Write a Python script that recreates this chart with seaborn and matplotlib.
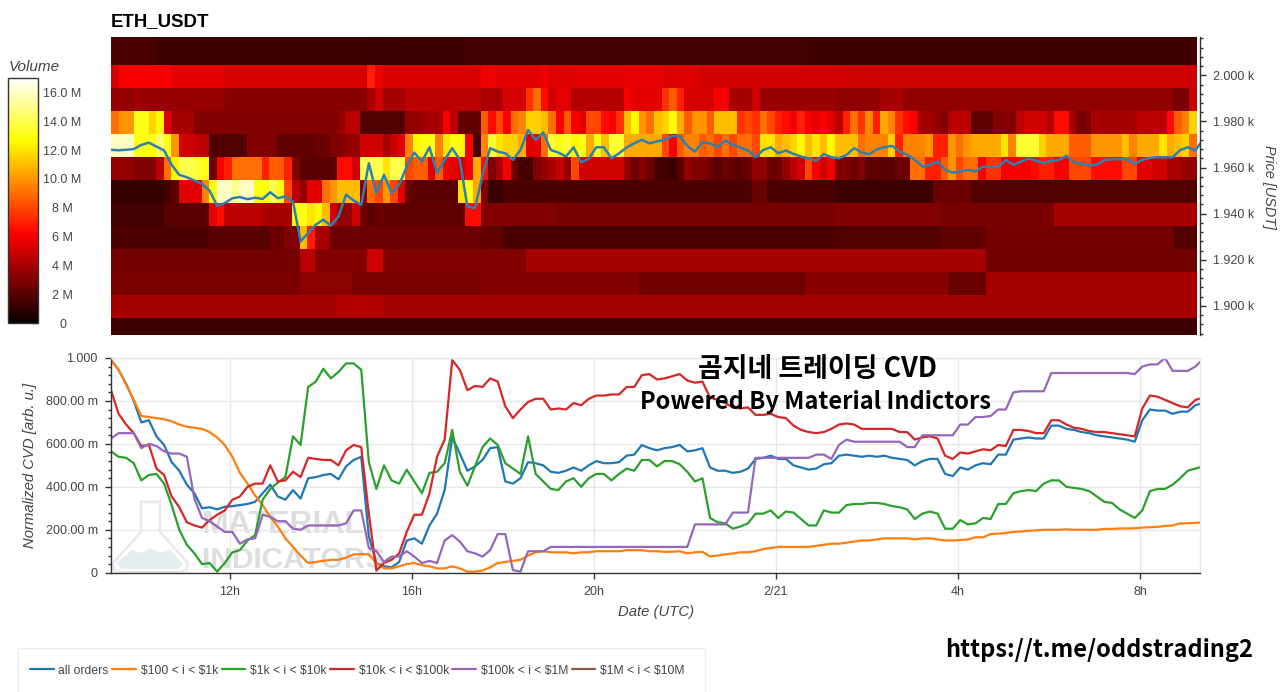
import numpy as np
import pandas as pd
import seaborn as sns
import matplotlib
matplotlib.use('Agg')
import matplotlib.pyplot as plt
from matplotlib.lines import Line2D
from matplotlib.patches import Polygon, Rectangle
from matplotlib.ticker import MultipleLocator
from matplotlib.transforms import Affine2D

# volume per 10 min column, one list per price bin (millions)
vol_2009 = [1.7]*6 + [1.35]*29 + [1.25]*12 + [1.5]*5 + [1.45]*40 + [1.35]*52
vol_1999 = ([5.2] + [6]*7 + [5.5]*7 + [5.2]*19 + [7, 5.8] + [5.3]*13
            + [5.8]*2 + [5.5]*6 + [5.9] + [5.4]*3 + [5.5]*7 + [5.6]*5 + [5.4]*5 + [5.1]*18
            + [5]*48)
vol_1989 = ([3.5]*3 + [3.8] + [3.6]*11 + [3.2]*19 + [4, 5] + [4]*3 + [4.5]*10
            + [4]*3 + [5.2]*3 + [7.5, 9, 6.5, 5] + [5.5]*2 + [4.3]*7 + [6] + [5.5]*4
            + [7.5, 8.5, 7] + [5.2]*4 + [6]*2 + [4]*3 + [5] + [3.7]*10
            + [3.4]*6 + [4]*3 + [3.4]*36 + [2.8]*2 + [4.8])
vol_1979 = ([9, 10, 10, 13, 13, 11.5, 12.5, 5.5, 4, 4, 4] + [3]*19 + [3.5, 4.5, 4.5] + [1.8]*6
            + [3.5, 3.5, 3.8, 4, 4, 6, 4.5, 2.2, 2.2, 2.2]
            + [8.5, 6.5, 8, 6, 9, 9.5, 11.5, 11.5, 11, 9, 6, 8.5, 6, 5.5, 8, 8, 6.5, 6, 7.5, 11,
               12.5, 10, 9, 11, 11.5, 12.7, 10.5, 8.5, 10, 10, 8.5, 11, 11, 11, 7.5, 8, 7.5, 9, 8, 7,
               6.5, 6, 7, 6, 5.5, 6, 5.5]
            + [4.5, 7, 9, 7.5, 9.5, 7, 10.5, 9.5, 7.5, 6.5, 6, 3.8, 3.8, 3.5, 3, 4.5, 4.5, 4.5]
            + [2.2]*3 + [3]*3 + [4.5, 5, 5, 5, 4.5, 6.5, 6.5, 4, 2.8, 2.8] + [4]*6 + [4.5]*4
            + [6.5, 8.5, 9.5, 11.5])
vol_1969 = ([16, 16, 16, 13, 13, 13, 14.5, 13, 10, 5, 5, 4.5, 4.5] + [1.8]*5 + [3]*4 + [2.2]*5
            + [2.5, 2.5, 3, 3, 3.5, 3.5, 5, 5, 5, 4, 4.8, 5.5, 9.5, 12.5, 13, 13, 9.5, 12, 13, 12.5, 6, 1.5]
            + [9.5, 13.5, 12, 11.5, 11.5, 10.5, 5.5, 5.5, 9, 13.5, 13, 13.5, 12.5, 13, 10.5, 13, 11, 13.5, 13.5]
            + [10.5]*5 + [8, 6, 8.5, 9.5, 9.5, 8.5, 9, 8, 9, 8, 9, 9, 8]
            + [12, 12, 10.5, 11, 11.5, 12.5, 11, 12, 11, 12.5]
            + [11, 11, 11, 9, 9.5, 9.5, 9.5, 11.5, 7, 9.5, 9.5, 9.5, 10, 7, 7, 10, 9, 10]
            + [10.5]*4 + [12, 9.5] + [13.5]*3 + [11.5] + [10.5]*3 + [8.5]*3 + [10]*4 + [11, 9.5]
            + [10.5]*3 + [12, 10.5, 11, 11.5, 9])
vol_1959 = ([3.5]*3 + [3]*3 + [4.5, 9, 12.5, 14, 14, 13.5, 13, 2.5, 6, 7] + [9]*4 + [7, 8.5, 8.5, 7]
            + [3, 2, 2, 2, 2, 2, 6.5, 6.5, 5, 14, 14, 14, 12, 14, 14, 8, 8.5, 8.5, 5.5, 8.5, 6, 5.5, 5, 6, 10.5]
            + [6.5, 3, 4, 6, 2.5, 1.5, 1.5, 3, 3.5, 4, 4.8, 3.5, 8] + [5]*6
            + [3.5, 2.5, 3.2, 2.5, 1.5, 1.5, 1.2, 2, 3.5, 3, 3, 2.5, 2, 2.5, 2.2, 2, 2.5, 3.5]
            + [3.5, 2.5, 2.5, 3.5, 4.5, 5, 8, 6, 5, 6]
            + [3, 3, 2.5, 3, 2, 2.2, 2, 2, 2.5, 2.5, 9, 9, 7, 7, 8.5, 10, 8, 9, 9, 6, 7.5, 7.5]
            + [6]*4 + [6.5, 7, 7, 6, 6] + [8]*3 + [6.5]*4 + [8]*2 + [5.5]*2 + [5]*2 + [4]*2 + [3.5]*2)
vol_1949 = ([1.1]*7 + [1.5, 2] + [5.5]*3 + [9.5, 13, 16, 16, 15, 16, 16, 13, 13, 14, 13, 8, 4.5, 3.5, 5.5, 5.5]
            + [9, 10, 11, 11, 11, 3, 9, 8, 10, 8, 5.5, 2.5] + [2]*6 + [12, 13, 10.5]
            + [3] + [1.2]*2 + [1.7]*33 + [2.5]*2 + [1.6]*9
            + [1.3]*13 + [2.5]*5 + [1.8]*30)
vol_1939 = ([1.5]*7 + [2]*6 + [5.5, 6.5] + [4.5]*5 + [4]*4 + [13, 13, 12, 12.5, 11, 5, 3.5, 3.5, 5, 2.5, 2, 2.5]
            + [2.2]*11 + [6.5]*2 + [3]*10 + [2.8]*37 + [3.1]*14 + [2.8]*15 + [4]*19)
vol_1929 = ([1.7]*13 + [2]*8 + [2.5]*2 + [3]*2 + [11, 7, 4, 4] + [2.5]*20 + [2.2]*3 + [1.6]*44
            + [1.8]*14 + [2.2]*6 + [2.7]*25 + [1.9]*3)
vol_1919 = [2.7]*25 + [4.5]*2 + [3.1]*7 + [5]*2 + [3]*19 + [4]*61 + [2.6]*28
vol_1909 = [2.9]*25 + [3.3]*7 + [2.9]*17 + [3.1]*21 + [2.6]*22 + [3.2]*19 + [2.4]*5 + [4]*28
vol_1899 = [4.0]*30 + [4.3]*6 + [4.0]*108
vol_1889 = [1.3]*144

price_bins = [2019.6, 2009.6, 1999.6, 1989.6, 1979.6, 1969.6, 1959.6, 1949.6,
              1939.6, 1929.6, 1919.6, 1909.6, 1899.6, 1889.6]

price = [1967.7, 1967.5, 1967.7, 1968.0, 1969.8, 1970.8, 1969.1, 1967.4, 1961.2, 1956.8,
         1955.8, 1954.4, 1952.9, 1950.0, 1943.4, 1944.6, 1946.7, 1947.2, 1946.3, 1946.9,
         1946.4, 1949.3, 1946.7, 1947.5, 1945.3, 1928.0, 1931.6, 1935.2, 1937.4, 1934.8,
         1938.8, 1948.2, 1945.7, 1943.8, 1961.9, 1948.9, 1956.8, 1948.9, 1952.5, 1960.4,
         1966.5, 1962.6, 1968.8, 1957.6, 1963.3, 1968.4, 1963.3, 1943.1, 1942.4, 1956.8,
         1968.4, 1966.9, 1966.2, 1963.3, 1967.6, 1976.3, 1972.0, 1975.2, 1967.6, 1966.5,
         1964.8, 1968.8, 1962.2, 1963.8, 1968.8, 1968.8, 1964.0, 1966.2, 1968.7, 1970.5,
         1972.0, 1970.5, 1971.3, 1972.0, 1973.7, 1973.7, 1969.4, 1966.9, 1971.0, 1970.5,
         1968.8, 1971.7, 1969.8, 1968.7, 1967.4, 1964.5, 1967.6, 1968.8, 1966.2, 1967.4,
         1965.9, 1964.8, 1964.0, 1962.9, 1965.8, 1964.5, 1964.0, 1965.5, 1968.4, 1966.5,
         1965.8, 1967.9, 1968.8, 1969.4, 1966.9, 1965.5, 1963.3, 1960.5, 1961.2, 1962.6,
         1959.0, 1957.8, 1958.3, 1959.0, 1958.3, 1960.4, 1960.2, 1960.2, 1963.3, 1961.2,
         1962.6, 1963.9, 1963.0, 1961.9, 1962.9, 1963.3, 1965.1, 1962.2, 1961.6, 1961.0,
         1961.2, 1963.3, 1963.6, 1963.6, 1963.6, 1961.6, 1963.3, 1964.2, 1964.5, 1964.5,
         1964.5, 1967.6, 1968.8, 1967.4, 1972.0]

cvd_all = [.99, .945, .88, .80, .70, .71, .635, .595, .515, .475,
           .41, .37, .30, .305, .295, .307, .31, .315, .32, .33,
           .37, .41, .355, .34, .385, .345, .44, .445, .455, .46,
           .435, .495, .525, .54, .17, .045, .03, .025, .05, .15,
           .16, .135, .22, .275, .385, .63, .555, .475, .495, .525,
           .58, .585, .425, .415, .44, .515, .51, .50, .47, .465,
           .475, .49, .475, .50, .52, .51, .51, .515, .545, .55,
           .595, .58, .57, .58, .585, .595, .565, .57, .58, .49,
           .475, .475, .465, .47, .485, .53, .535, .545, .53, .53,
           .50, .49, .48, .485, .505, .51, .545, .55, .545, .54,
           .545, .54, .545, .535, .53, .525, .50, .52, .53, .53,
           .46, .45, .49, .48, .50, .51, .505, .55, .55, .62,
           .625, .63, .625, .625, .685, .685, .67, .665, .655, .65,
           .64, .635, .63, .625, .62, .61, .71, .76, .755, .755,
           .74, .75, .75, .78, .79]
cvd_100_1k = [.99, .945, .875, .805, .73, .725, .72, .715, .705, .69,
              .68, .675, .67, .655, .63, .595, .54, .465, .415, .36,
              .315, .26, .215, .16, .12, .08, .045, .05, .055, .06,
              .06, .07, .085, .087, .085, .045, .02, .02, .03, .04,
              .045, .035, .03, .02, .02, .03, .02, .005, .005, .01,
              .025, .045, .05, .055, .06, .08, .095, .10, .095, .095,
              .095, .09, .095, .095, .10, .10, .10, .10, .105, .105,
              .105, .10, .10, .097, .098, .10, .09, .095, .097, .075,
              .08, .085, .09, .095, .095, .10, .11, .115, .12, .12,
              .12, .12, .12, .125, .13, .135, .135, .14, .145, .15,
              .15, .155, .16, .16, .16, .16, .155, .16, .16, .155,
              .15, .15, .152, .155, .165, .165, .18, .182, .185, .19,
              .192, .195, .197, .20, .20, .20, .202, .20, .20, .20,
              .20, .204, .204, .206, .206, .207, .21, .212, .213, .218,
              .22, .23, .23, .232, .235]
cvd_1k_10k = [.565, .54, .535, .51, .43, .455, .46, .415, .315, .20,
              .13, .09, .04, .045, .005, .045, .095, .105, .15, .175,
              .34, .39, .42, .445, .635, .595, .865, .89, .95, .905,
              .935, .975, .975, .945, .515, .39, .50, .43, .415, .48,
              .425, .37, .465, .47, .51, .665, .47, .405, .495, .585,
              .625, .595, .51, .485, .46, .635, .46, .425, .39, .385,
              .425, .44, .40, .44, .46, .46, .43, .46, .485, .475,
              .525, .525, .495, .52, .52, .505, .47, .425, .44, .255,
              .235, .23, .205, .215, .23, .275, .275, .29, .255, .285,
              .28, .25, .22, .22, .29, .28, .28, .315, .32, .32,
              .325, .325, .32, .31, .305, .295, .25, .275, .285, .275,
              .205, .205, .245, .225, .23, .255, .25, .32, .32, .37,
              .38, .385, .38, .415, .43, .43, .40, .395, .39, .38,
              .355, .33, .325, .295, .275, .255, .29, .38, .39, .39,
              .41, .44, .475, .485, .495]
cvd_10k_100k = [.85, .74, .69, .65, .59, .595, .485, .455, .355, .305,
                .235, .22, .21, .245, .27, .29, .34, .355, .40, .415,
                .415, .50, .425, .43, .47, .445, .535, .53, .525, .525,
                .50, .57, .595, .585, .275, .01, .045, .06, .09, .19,
                .27, .27, .37, .54, .62, .99, .945, .85, .87, .865,
                .905, .89, .775, .72, .76, .795, .81, .81, .76, .765,
                .76, .79, .78, .81, .825, .825, .83, .83, .865, .865,
                .92, .925, .90, .905, .915, .925, .895, .885, .89, .815,
                .805, .79, .77, .765, .77, .735, .735, .74, .725, .72,
                .685, .665, .655, .65, .655, .67, .69, .695, .69, .67,
                .67, .67, .67, .67, .655, .655, .62, .63, .635, .625,
                .545, .53, .56, .555, .565, .575, .57, .595, .59, .665,
                .665, .66, .65, .65, .71, .71, .69, .675, .67, .66,
                .655, .655, .65, .645, .64, .635, .765, .825, .82, .805,
                .79, .775, .77, .805, .815]
cvd_100k_1m = [.625, .65, .65, .65, .58, .60, .59, .565, .555, .555,
               .54, .345, .255, .24, .215, .19, .19, .135, .155, .16,
               .27, .26, .24, .24, .205, .20, .22, .22, .22, .22,
               .22, .23, .29, .29, .115, .10, .05, .075, .075, .10,
               .075, .045, .055, .045, .15, .175, .145, .10, .09, .075,
               .105, .18, .18, .012, .005, .10, .10, .10, .12, .12,
               .12, .12, .12, .12, .12, .12, .12, .12, .12, .12,
               .12, .12, .12, .12, .12, .12, .12, .225, .225, .225,
               .225, .225, .28, .28, .28, .535, .535, .535, .535, .535,
               .535, .535, .535, .55, .55, .53, .595, .62, .61, .61,
               .61, .61, .61, .61, .61, .585, .585, .64, .64, .64,
               .64, .64, .69, .69, .725, .725, .73, .76, .76, .84,
               .845, .845, .845, .845, .93, .93, .93, .93, .93, .93,
               .93, .93, .93, .93, .93, .925, .96, .97, .97, 1.0,
               .94, .94, .94, .96, .995]

range_names = ['all orders', '$100 < i < $1k', '$1k < i < $10k', '$10k < i < $100k',
               '$100k < i < $1M', '$1M < i < $10M']
range_colors = ['#1f77b4', '#ff7f0e', '#2ca02c', '#d62728', '#9467bd', '#8c564b']

FIG_W, FIG_H = 1280, 692
T0, T1 = 9.385, 33.32
hours = T0 + np.arange(145) / 6

sns.set_style('ticks')
plt.rcParams['font.family'] = ['Liberation Sans', 'Noto Sans CJK KR', 'DejaVu Sans']
plt.rcParams['text.parse_math'] = False
TEXT = '#444444'
CJK = ['Noto Sans CJK KR', 'DejaVu Sans']

fig = plt.figure(figsize=(FIG_W / 100, FIG_H / 100), dpi=100)
px = Affine2D().scale(1 / FIG_W, -1 / FIG_H).translate(0, 1) + fig.transFigure


def px_axes(left, top, right, bottom, **kw):
    return fig.add_axes([left / FIG_W, 1 - bottom / FIG_H, (right - left) / FIG_W, (bottom - top) / FIG_H], **kw)


def px_text(x, y, s, **kw):
    return fig.text(x / FIG_W, 1 - y / FIG_H, s, **kw)


# heatmap
vol_rows = [vol_2009, vol_2009, vol_1999, vol_1989, vol_1979, vol_1969, vol_1959, vol_1949,
            vol_1939, vol_1929, vol_1919, vol_1909, vol_1899, vol_1889]
vol_df = pd.DataFrame(vol_rows, index=price_bins)

ax_heat = px_axes(111, 37, 1197, 335)
cax = px_axes(8, 78, 37.5, 323)
sns.heatmap(vol_df, ax=ax_heat, cmap='hot', vmin=0, vmax=17, cbar_ax=cax,
            xticklabels=False, yticklabels=False,
            cbar_kws={'ticks': [0, 2, 4, 6, 8, 10, 12, 14, 16]})
ax_heat.set_ylim(13.72, 0.8)
ax_heat.set_xlim(0, 144)
ax_heat.set_ylabel('')

cax.set_yticklabels(['0', '2 M', '4 M', '6 M', '8 M', '10.0 M', '12.0 M', '14.0 M', '16.0 M'])
cax.tick_params(axis='y', direction='in', length=4, width=1, color='#444444', labelcolor=TEXT,
                labelsize=9, pad=18, right=True, left=False)
for lab in cax.get_yticklabels():
    lab.set_horizontalalignment('center')
cbar = ax_heat.collections[0].colorbar
cbar.outline.set_edgecolor('#333333')
cbar.outline.set_linewidth(1)
px_text(9, 67, 'Volume', fontsize=11, style='italic', color=TEXT, va='center')

# price line on top of the heatmap
ax_price = px_axes(111, 37, 1200, 335, facecolor='none')
sns.lineplot(x=hours, y=price, ax=ax_price, color='#2f7fb0', linewidth=1.8, estimator=None)
ax_price.set_xlim(T0, T1)
ax_price.set_ylim(1887.4, 2016.6)
ax_price.set_xticks([])
ax_price.yaxis.tick_right()
ax_price.set_yticks([1900, 1920, 1940, 1960, 1980, 2000])
ax_price.set_yticklabels(['1.900 k', '1.920 k', '1.940 k', '1.960 k', '1.980 k', '2.000 k'])
ax_price.yaxis.set_minor_locator(MultipleLocator(4))
ax_price.tick_params(axis='y', which='major', direction='out', length=4.5, width=1, color='#333333',
                     labelcolor=TEXT, labelsize=9, pad=5)
ax_price.tick_params(axis='y', which='minor', direction='out', length=2.5, width=1, color='#333333')
for side in ['left', 'top', 'bottom']:
    ax_price.spines[side].set_visible(False)
ax_price.spines['right'].set_color('#333333')
ax_price.spines['right'].set_linewidth(1)
px_text(1269, 187, 'Price [USDT]', fontsize=10.4, style='italic', color=TEXT,
        rotation=270, ha='center', va='center')
px_text(111, 22, 'ETH_USDT', fontsize=13.4, fontweight='bold', color='black', va='center')

# cvd panel
ax_cvd = px_axes(111, 358, 1200, 572.7, facecolor='none')
cvd_df = pd.DataFrame({'hour': hours, range_names[0]: cvd_all, range_names[1]: cvd_100_1k,
                       range_names[2]: cvd_1k_10k, range_names[3]: cvd_10k_100k,
                       range_names[4]: cvd_100k_1m})
cvd_long = cvd_df.melt(id_vars='hour', var_name='range', value_name='cvd')
sns.lineplot(data=cvd_long, x='hour', y='cvd', hue='range', hue_order=range_names[:5],
             palette=range_colors[:5], estimator=None, linewidth=1.6, legend=False, ax=ax_cvd)
ax_cvd.set_xlim(T0, T1)
ax_cvd.set_ylim(0, 1)
ax_cvd.set_xticks([12, 16, 20, 24, 28, 32])
ax_cvd.set_xticklabels(['12h', '16h', '20h', '2/21', '4h', '8h'])
ax_cvd.set_yticks([0, .2, .4, .6, .8, 1])
ax_cvd.set_yticklabels(['0', '200.00 m', '400.00 m', '600.00 m', '800.00 m', '1.000'])
ax_cvd.yaxis.set_minor_locator(MultipleLocator(.04))
ax_cvd.grid(True, which='major', color='#e8e8e8', linewidth=1)
ax_cvd.set_axisbelow(True)
ax_cvd.tick_params(axis='both', which='major', direction='out', length=4.5, width=1, color='#333333',
                   labelcolor=TEXT, labelsize=9, pad=5)
ax_cvd.tick_params(axis='y', which='minor', direction='out', length=2.5, width=1, color='#333333')
ax_cvd.set_xlabel('')
ax_cvd.set_ylabel('')
for side in ['left', 'bottom']:
    ax_cvd.spines[side].set_color('#333333')
    ax_cvd.spines[side].set_linewidth(1)
for side in ['top', 'right']:
    ax_cvd.spines[side].set_visible(True)
    ax_cvd.spines[side].set_color('#e8e8e8')
    ax_cvd.spines[side].set_linewidth(1)
px_text(30, 465, 'Normalized CVD [arb. u.]', fontsize=10.7, style='italic', color=TEXT,
        rotation=90, ha='center', va='center')
px_text(656, 612, 'Date (UTC)', fontsize=10.7, style='italic', color=TEXT, ha='center', va='center')

# faint logo behind the lines
flask = [(141, 502), (160, 502), (160, 532), (188, 563), (186, 570), (180, 572),
         (120, 572), (114, 570), (113, 563), (141, 532)]
liquid = [(120, 560), (132, 550), (142, 553), (150, 548), (160, 553), (170, 550), (183, 564), (178, 569),
          (122, 569), (116, 564)]
ax_cvd.add_patch(Polygon(flask, closed=True, transform=px, fill=False, edgecolor='#e9e9e9',
                         linewidth=1.8, clip_on=False, zorder=0.5))
ax_cvd.add_patch(Polygon(liquid, closed=True, transform=px, facecolor='#e4edf0', edgecolor='none',
                         clip_on=False, zorder=0.5))
ax_cvd.text(202, 533, 'MATERIAL', transform=px, fontsize=23, fontweight='bold', color='#dcdee0',
            family=['Liberation Sans Narrow', 'Liberation Sans'], va='baseline', zorder=0.5)
ax_cvd.text(202, 568, 'INDICATORS', transform=px, fontsize=21.5, fontweight='bold', color='#dcdee0',
            family=['Liberation Sans Narrow', 'Liberation Sans'], va='baseline', zorder=0.5)

# texts pasted on the chart
px_text(818, 369, '곰지네 트레이딩 CVD', fontsize=19.4, fontweight='bold', family=CJK,
        color='black', ha='center', va='center')
px_text(816, 402, 'Powered By Material Indictors', fontsize=17, fontweight='bold', family=CJK,
        color='black', ha='center', va='center')
px_text(1099, 650, 'https://t.me/oddstrading2', fontsize=17, fontweight='bold', family=CJK,
        color='black', ha='center', va='center')

# legend box runs off the bottom of the picture
fig.add_artist(Rectangle((18, 648), 687, 60, transform=px, fill=False, edgecolor='#eeeeee', linewidth=1))
handles = [Line2D([], [], color=c, linewidth=1.6) for c in range_colors]
fig.legend(handles, range_names, ncol=6, frameon=False, fontsize=8.7, labelcolor=TEXT,
           loc='center left', bbox_to_anchor=(30 / FIG_W, 1 - 670.7 / FIG_H), handlelength=1.95,
           handletextpad=0.4, columnspacing=0.3, borderpad=0, borderaxespad=0)

fig.savefig('out.png', dpi=100)
